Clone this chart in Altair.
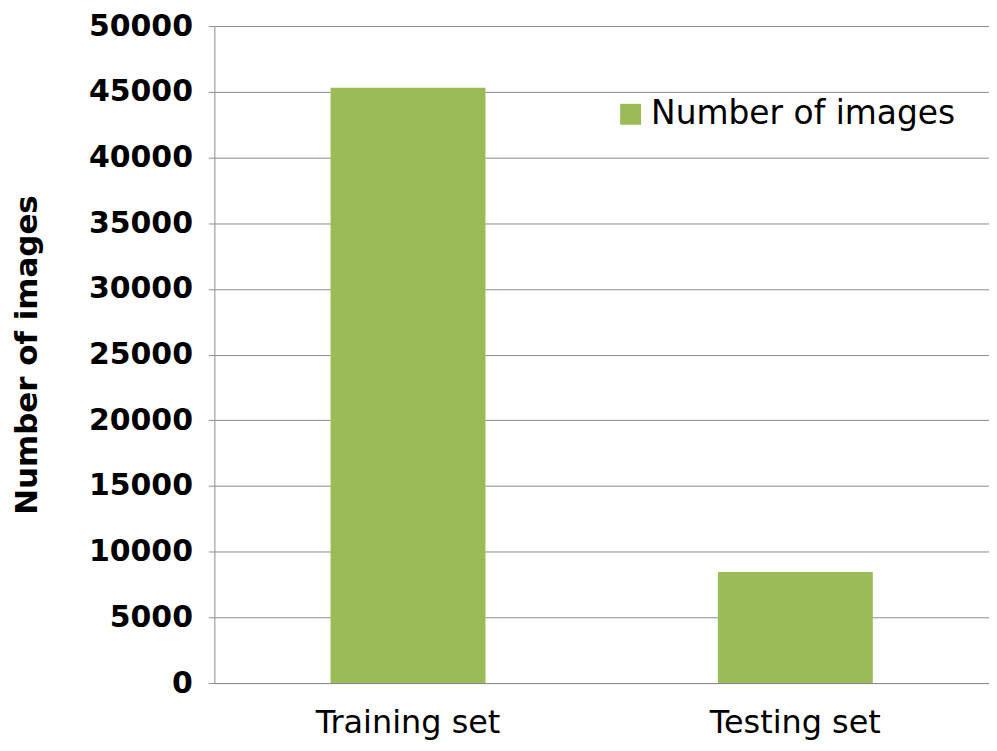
import altair as alt
import pandas as pd

categories = ["Training set", "Testing set"]
values = [45300, 8450]
series = ["Number of images", "Number of images"]

df = pd.DataFrame({"set": categories, "count": values, "series": series})

font = "DejaVu Sans"

chart = alt.Chart(df).mark_bar(color="#9BBB59").encode(
    x=alt.X("set:N", sort=categories, title=None,
            scale=alt.Scale(paddingInner=0.6, paddingOuter=0.3),
            axis=alt.Axis(labelAngle=0, labelFontSize=32, labelFont=font,
                          labelFontWeight="normal", labelColor="black", labelLimit=400,
                          ticks=False, domainColor="#8c8c8c", labelPadding=25)),
    y=alt.Y("count:Q", title="Number of images",
            scale=alt.Scale(domain=[0, 50000]),
            axis=alt.Axis(values=list(range(0, 50001, 5000)), format="d",
                          labelFontSize=30,
                          labelFont=font, labelFontWeight="bold", labelColor="black",
                          titleFontSize=31, titleFont=font, titleFontWeight="bold",
                          titleColor="black", ticks=True, tickSize=6, tickColor="#8c8c8c",
                          domainColor="#8c8c8c", gridColor="#8c8c8c", labelPadding=16,
                          titlePadding=45)),
    fill=alt.Fill("series:N", scale=alt.Scale(range=["#9BBB59"]),
                  legend=alt.Legend(title=None, orient="none", legendX=401, legendY=72,
                                    symbolType="square", symbolSize=441,
                                    labelFontSize=33, labelFont=font, labelColor="black",
                                    symbolStrokeWidth=0, labelLimit=400)),
).properties(
    width=777, height=659,
    autosize=alt.AutoSizeParams(type="none"),
    padding={"left": 207, "top": 17, "right": 0, "bottom": 66},
).configure_view(stroke=None)

chart.save("out.html", embed_options={"renderer": "svg", "actions": False})
